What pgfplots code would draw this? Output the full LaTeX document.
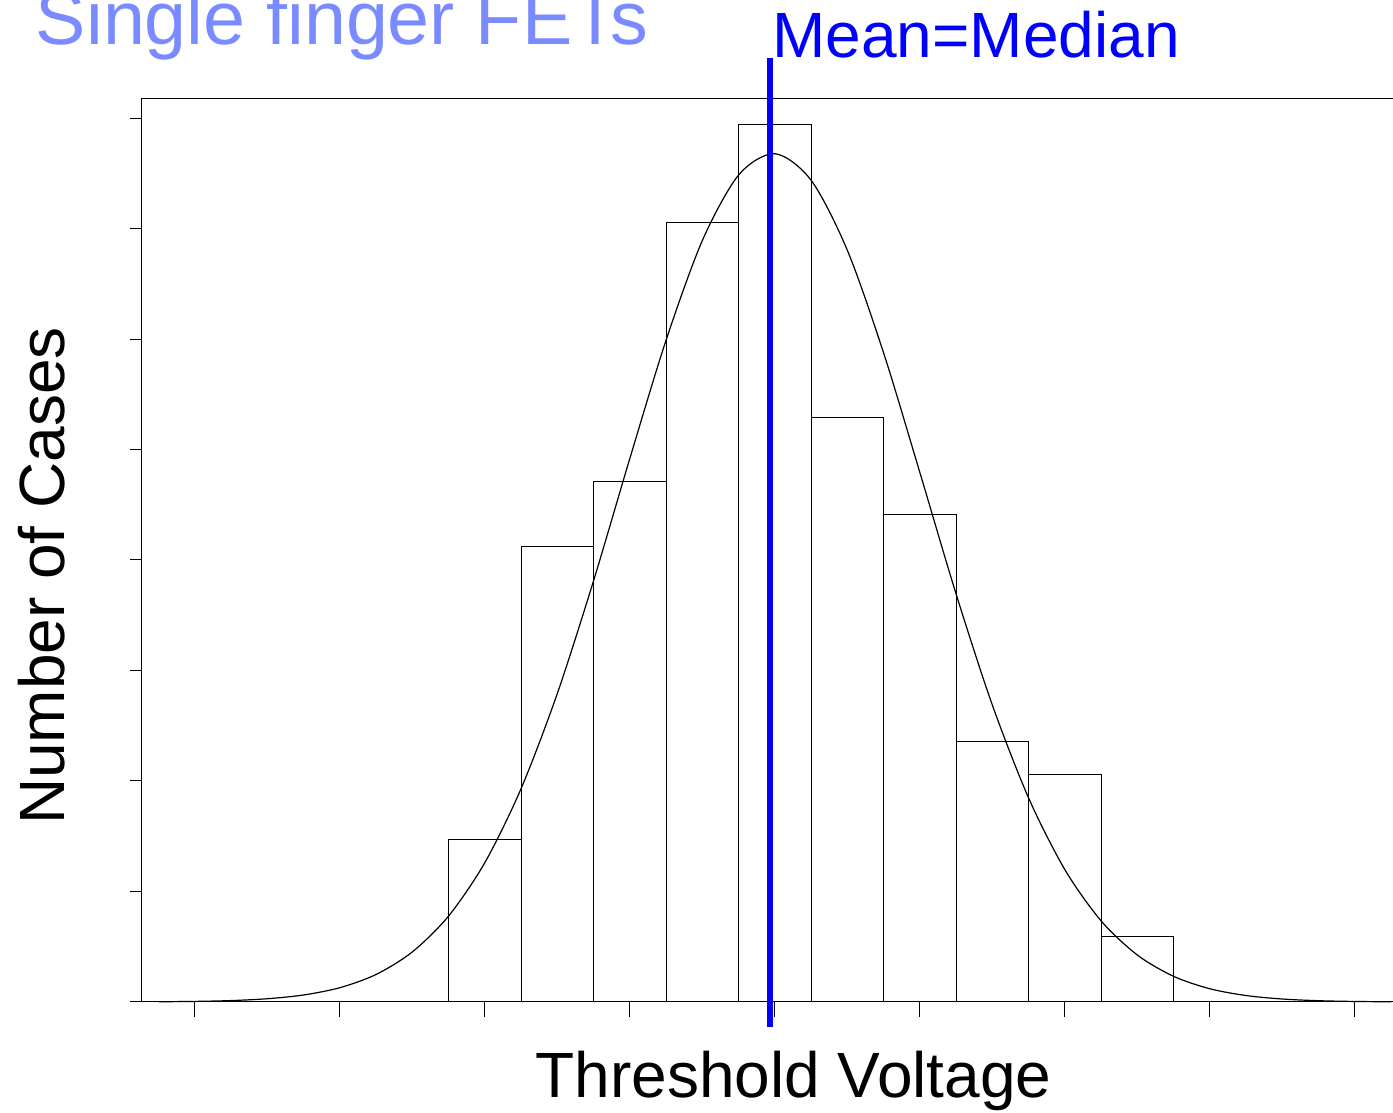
\documentclass[border=0pt]{standalone}
\usepackage{fontspec}
\setmainfont{Liberation Sans}
\usepackage{pgfplots}
\pgfplotsset{compat=1.18}

\definecolor{titleblue}{RGB}{122,139,255}
\definecolor{meanblue}{RGB}{0,0,255}

\begin{document}
\begin{tikzpicture}
\begin{axis}[
  at={(0pt,0pt)}, anchor=south west,
  scale only axis,
  width=629.5pt, height=451.5pt,
  xmin=-0.7448, xmax=16.621,
  ymin=0, ymax=27.785,
  clip=false,
  axis line style={black, line width=0.5pt},
  xtick={0,2,...,16},
  ytick={0,3.4,6.8,10.2,13.6,17,20.4,23.8,27.2},
  xticklabels={}, yticklabels={},
  tick align=outside,
  xtick pos=lower, ytick pos=left,
  xtick style={black, line width=0.5pt, /pgfplots/major tick length=7.5pt},
  ytick style={black, line width=0.5pt, /pgfplots/major tick length=5.5pt},
]
% histogram of threshold voltages (counts per bin)
\addplot[ybar interval, draw=black, fill=none, line width=0.5pt] coordinates {
  (3.5,5) (4.5,14) (5.5,16) (6.5,24) (7.5,27) (8.5,18)
  (9.5,15) (10.5,8) (11.5,7) (12.5,2) (13.5,2)
};
% fitted normal curve
\addplot[black, line width=0.6pt, smooth, mark=none] coordinates {
  (-0.5,0.0071) (0,0.0182) (0.5,0.0439) (1,0.1003) (1.5,0.2164)
  (2,0.4413) (2.5,0.8494) (3,1.545) (3.5,2.651) (4,4.297)
  (4.5,6.577) (5,9.508) (5.5,12.98) (6,16.74) (6.5,20.38)
  (7,23.44) (7.5,25.45) (8,26.10) (8.5,25.28) (9,23.12)
  (9.5,19.96) (10,16.28) (10.5,12.54) (11,9.125) (11.5,6.269)
  (12,4.067) (12.5,2.491) (13,1.442) (13.5,0.7874) (14,0.4064)
  (14.5,0.1980) (15,0.0912) (15.5,0.0396) (16,0.0163) (16.5,0.0063)
};
% mean = median marker
\addplot[meanblue, line width=3.35pt, mark=none] coordinates {
  (7.93,-0.77) (7.93,29.05)
};
\end{axis}

\node[anchor=base west, inner sep=0pt, text=titleblue]
  at (-52.7pt,478.5pt) {\fontsize{37.7}{45}\selectfont Single finger FETs};
\node[anchor=base west, inner sep=0pt, text=meanblue]
  at (315.5pt,472pt) {\fontsize{32}{38}\selectfont Mean=Median};
\node[anchor=base, inner sep=0pt]
  at (326.25pt,-48pt) {\fontsize{32}{38}\selectfont Threshold Voltage};
\node[anchor=base, inner sep=0pt, rotate=90]
  at (-38pt,213pt) {\fontsize{32}{38}\selectfont Number of Cases};

\pgfresetboundingbox
\useasboundingbox (-70.5pt,-55.5pt) rectangle (626pt,501pt);
\end{tikzpicture}
\end{document}
